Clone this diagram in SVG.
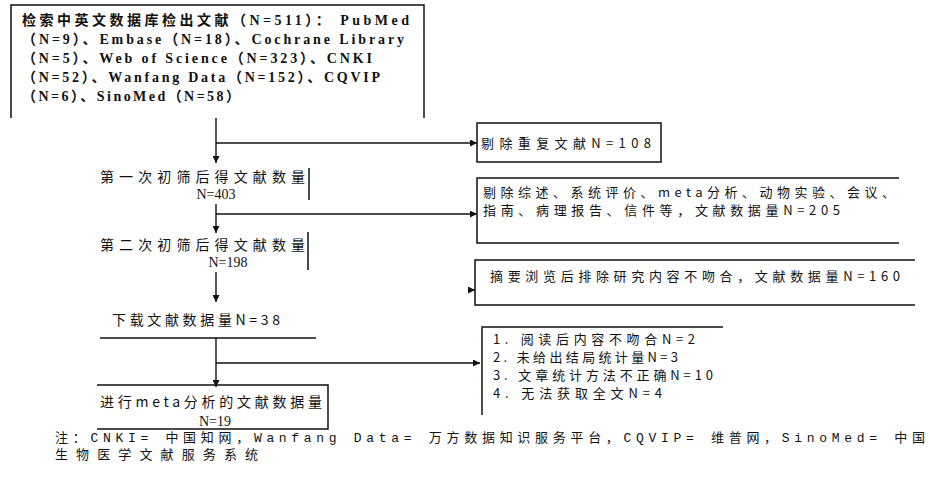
<svg xmlns="http://www.w3.org/2000/svg" width="930" height="484" viewBox="0 0 930 484">
<style>
.ln{fill:none;stroke:#111;stroke-width:1.5}
.cn{fill:none;stroke:#111;stroke-width:1.4}
.zh{font-family:"Noto Sans CJK SC","Noto Sans",sans-serif;font-size:13px;fill:#111}
.zl{font-family:"Noto Sans CJK SC","Noto Sans",sans-serif;font-size:14px;fill:#111}
.sr{font-family:"Liberation Serif","Noto Sans CJK SC",serif;font-size:14px;fill:#111;font-weight:bold}
.nm{font-family:"Liberation Serif",serif;font-size:14px;fill:#111}
.ft{font-family:"Liberation Mono","Noto Sans CJK SC",monospace;font-size:13px;fill:#111}
</style>
<defs>
<marker id="ah" viewBox="0 0 10 10" refX="10" refY="5" markerWidth="7" markerHeight="7" markerUnits="userSpaceOnUse" orient="auto">
<path d="M0,0 L10,5 L0,10 z" fill="#111"/>
</marker>
</defs>
<rect width="930" height="484" fill="#fff"/>
<g id="connectors">
<path class="cn" d="M216,118 V163" marker-end="url(#ah)"/>
<path class="cn" d="M216,143 H477" marker-end="url(#ah)"/>
<path class="cn" d="M216,204 V233" marker-end="url(#ah)"/>
<path class="cn" d="M216,214 H477" marker-end="url(#ah)"/>
<path class="cn" d="M216,272 V302" marker-end="url(#ah)"/>
<path class="cn" d="M468,290 H475" marker-end="url(#ah)"/>
<path class="cn" d="M216,338 V387" marker-end="url(#ah)"/>
<path class="cn" d="M216,363 H480" marker-end="url(#ah)"/>
</g>
<g id="search">
<path class="ln" d="M11,118 V5 H424 V118"/>
<text class="sr" x="22" y="25" textLength="387" lengthAdjust="spacing">检索中英文数据库检出文献（N=511）： PubMed</text>
<text class="sr" x="22" y="44" textLength="382" lengthAdjust="spacing">（N=9）、Embase（N=18）、Cochrane Library</text>
<text class="sr" x="22" y="63" textLength="350" lengthAdjust="spacing">（N=5）、Web of Science（N=323）、CNKI</text>
<text class="sr" x="22" y="82" textLength="358" lengthAdjust="spacing">（N=52）、Wanfang Data（N=152）、CQVIP</text>
<text class="sr" x="22" y="101" textLength="218" lengthAdjust="spacing">（N=6）、SinoMed（N=58）</text>
</g>
<g id="screen1">
<text class="zl" x="100" y="182" textLength="205" lengthAdjust="spacing">第一次初筛后得文献数量</text>
<text class="nm" x="216" y="199" text-anchor="middle">N=403</text>
<path class="ln" d="M309,168 V200"/>
</g>
<g id="screen2">
<text class="zl" x="100" y="250" textLength="205" lengthAdjust="spacing">第二次初筛后得文献数量</text>
<text class="nm" x="228" y="267" text-anchor="middle">N=198</text>
<path class="ln" d="M308,232 V270"/>
</g>
<g id="download">
<text class="zl" x="112" y="325" textLength="168" lengthAdjust="spacing">下载文献数据量N=38</text>
<path class="ln" d="M100,338 H316"/>
</g>
<g id="final">
<path class="ln" d="M97,385 H328 V429 H97"/>
<text class="zl" x="100" y="407" textLength="222" lengthAdjust="spacing">进行meta分析的文献数据量</text>
<text class="nm" x="215" y="426" text-anchor="middle" font-size="13">N=19</text>
</g>
<g id="exclude-dup">
<rect class="ln" x="477" y="123" width="184" height="39"/>
<text class="zh" x="481" y="148" textLength="170" lengthAdjust="spacing">剔除重复文献N=108</text>
</g>
<g id="exclude-type">
<path class="ln" d="M899,178 H477 V243 H899"/>
<text class="zh" x="483" y="197" textLength="412" lengthAdjust="spacing">剔除综述、系统评价、meta分析、动物实验、会议、</text>
<text class="zh" x="483" y="215" textLength="357" lengthAdjust="spacing">指南、病理报告、信件等，文献数据量N=205</text>
</g>
<g id="exclude-abstract">
<path class="ln" d="M915,260 H475 V305 H915"/>
<text class="zh" x="490" y="281" textLength="410" lengthAdjust="spacing">摘要浏览后排除研究内容不吻合，文献数据量N=160</text>
</g>
<g id="exclude-full">
<path class="ln" d="M723,327 H482 V415"/>
<text class="zh" x="493" y="344" textLength="202" lengthAdjust="spacing">1. 阅读后内容不吻合N=2</text>
<text class="zh" x="493" y="362" textLength="185" lengthAdjust="spacing">2. 未给出结局统计量N=3</text>
<text class="zh" x="493" y="380" textLength="220" lengthAdjust="spacing">3. 文章统计方法不正确N=10</text>
<text class="zh" x="493" y="398" textLength="169" lengthAdjust="spacing">4. 无法获取全文N=4</text>
</g>
<g id="note">
<text class="ft" x="55" y="442" textLength="870" lengthAdjust="spacing">注：CNKI= 中国知网，Wanfang Data= 万方数据知识服务平台，CQVIP= 维普网，SinoMed= 中国</text>
<text class="ft" x="55" y="459" textLength="203" lengthAdjust="spacing">生物医学文献服务系统</text>
</g>
</svg>
